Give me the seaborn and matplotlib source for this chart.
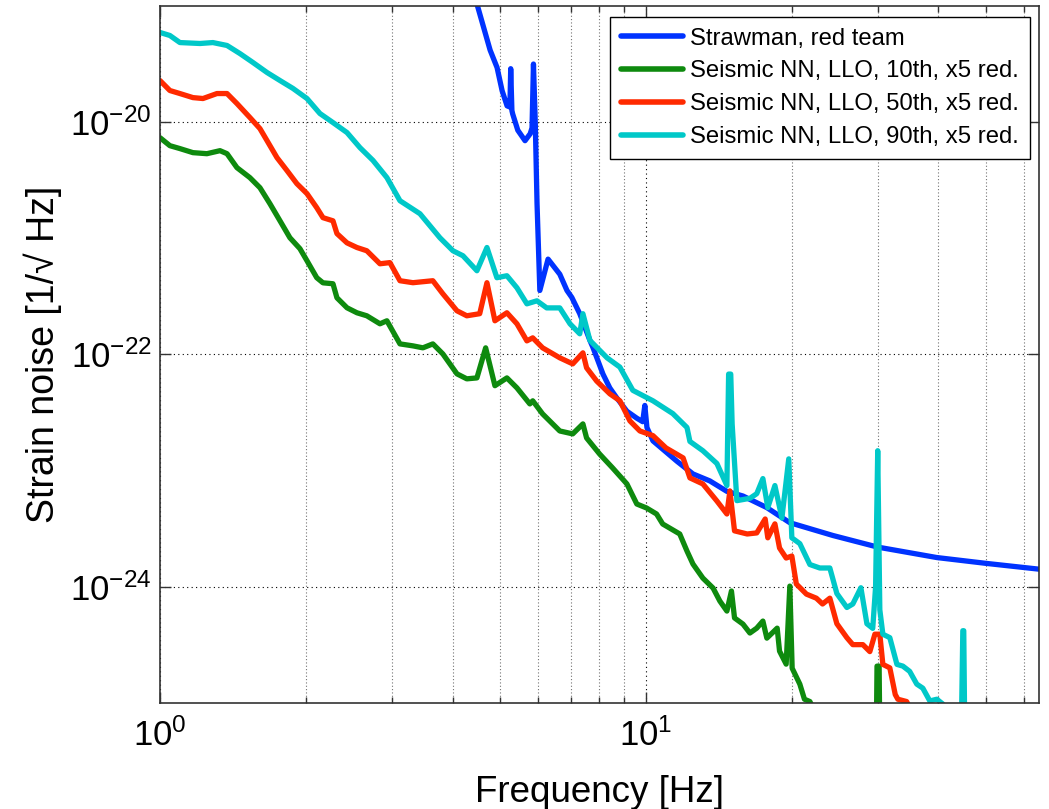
import matplotlib
matplotlib.use("Agg")
import matplotlib.pyplot as plt
import matplotlib.ticker as mticker
import numpy as np
import pandas as pd
import seaborn as sns

# frequency in Hz and log10 of strain noise
STRAWMAN_FREQ = [4.40, 4.51, 4.78, 4.94, 5.06, 5.18, 5.25, 5.27, 5.30, 5.32,
                 5.45, 5.64, 5.78, 5.83, 5.87, 5.92, 5.97, 6.05, 6.29, 6.65,
                 6.88, 7.04, 7.31, 7.67, 7.78, 8.16, 8.43, 8.71, 9.14, 9.58,
                 9.85, 9.95, 10.05, 10.34, 11.58, 12.50, 13.54, 14.68, 15.84, 17.74,
                 19.78, 24.26, 30.0, 39.7, 50.1, 64.4]
STRAWMAN_LOG = [-18.85, -19.01, -19.38, -19.53, -19.73, -19.86, -19.87, -19.54, -19.90, -19.93,
                -20.07, -20.16, -20.10, -20.05, -19.50, -20.00, -20.70, -21.45, -21.18, -21.31,
                -21.45, -21.51, -21.65, -21.88, -21.94, -22.17, -22.29, -22.375, -22.49, -22.55,
                -22.58, -22.44, -22.63, -22.745, -22.92, -23.03, -23.09, -23.18, -23.22, -23.32,
                -23.45, -23.56, -23.66, -23.75, -23.80, -23.85]

NN10_FREQ = [1.0, 1.048, 1.099, 1.169, 1.249, 1.329, 1.374, 1.44, 1.531, 1.606,
             1.684, 1.766, 1.851, 1.941, 2.007, 2.102, 2.165, 2.27, 2.313, 2.426,
             2.543, 2.665, 2.836, 2.931, 3.118, 3.316, 3.476, 3.644, 3.82, 4.085,
             4.28, 4.49, 4.68, 4.89, 5.176, 5.428, 5.77, 5.85, 6.13, 6.65,
             7.07, 7.42, 7.55, 8.03, 8.54, 9.14, 9.58, 10.03, 10.52, 10.83,
             11.74, 12.15, 12.5, 13.1, 13.75, 14.2, 14.68, 15.0, 15.22, 15.84,
             16.37, 16.91, 17.41, 17.74, 18.63, 18.84, 19.44, 19.78, 20.0, 20.74,
             21.2, 21.75, 23.0, 29.8, 29.9, 30.2, 30.3]
NN10_LOG = [-20.134, -20.203, -20.228, -20.263, -20.272, -20.246, -20.272, -20.392, -20.478, -20.565,
            -20.703, -20.85, -20.996, -21.09, -21.194, -21.34, -21.384, -21.392, -21.513, -21.599,
            -21.642, -21.668, -21.737, -21.711, -21.91, -21.927, -21.944, -21.91, -21.996, -22.168,
            -22.211, -22.203, -21.944, -22.27, -22.203, -22.289, -22.427, -22.40, -22.513, -22.66,
            -22.685, -22.599, -22.72, -22.858, -22.978, -23.116, -23.289, -23.323, -23.375, -23.461,
            -23.547, -23.694, -23.806, -23.927, -24.013, -24.125, -24.211, -24.038, -24.27, -24.323,
            -24.40, -24.358, -24.297, -24.444, -24.358, -24.556, -24.668, -23.996, -24.703, -24.84,
            -24.97, -24.99, -25.2, -25.3, -24.685, -24.685, -25.3]

NN50_FREQ = [1.0, 1.048, 1.099, 1.169, 1.226, 1.31, 1.374, 1.44, 1.531, 1.606,
             1.661, 1.741, 1.826, 1.913, 2.007, 2.102, 2.165, 2.27, 2.313, 2.426,
             2.543, 2.665, 2.836, 2.973, 3.118, 3.316, 3.644, 3.82, 4.085, 4.28,
             4.55, 4.709, 4.89, 5.176, 5.428, 5.69, 5.85, 6.13, 6.65, 7.07,
             7.42, 7.55, 7.92, 8.43, 8.84, 9.27, 9.72, 10.34, 11.0, 11.93,
             12.32, 13.1, 14.0, 14.68, 14.89, 15.22, 16.16, 16.91, 17.6, 17.82,
             18.43, 18.84, 19.44, 19.97, 20.4, 21.4, 22.43, 23.1, 23.91, 24.72,
             25.92, 26.66, 27.96, 28.9, 29.6, 30.3, 30.74, 31.77, 32.6, 33.0,
             34.4, 36.0]
NN50_LOG = [-19.642, -19.728, -19.754, -19.789, -19.797, -19.754, -19.754, -19.84, -19.96, -20.056,
            -20.16, -20.306, -20.418, -20.53, -20.616, -20.737, -20.823, -20.85, -20.96, -21.04,
            -21.08, -21.108, -21.22, -21.21, -21.366, -21.383, -21.366, -21.478, -21.625, -21.668,
            -21.65, -21.383, -21.711, -21.642, -21.737, -21.884, -21.858, -21.944, -22.03, -22.082,
            -21.987, -22.116, -22.23, -22.34, -22.40, -22.573, -22.66, -22.70, -22.806, -22.892,
            -23.064, -23.116, -23.263, -23.375, -23.176, -23.52, -23.547, -23.538, -23.418, -23.58,
            -23.46, -23.668, -23.754, -23.737, -23.978, -24.065, -24.1, -24.15, -24.1, -24.32,
            -24.44, -24.50, -24.50, -24.56, -24.41, -24.41, -24.67, -24.70, -24.93, -24.97,
            -24.99, -25.15]

NN90_FREQ = [1.0, 1.048, 1.099, 1.209, 1.285, 1.374, 1.461, 1.554, 1.661, 1.766,
             1.878, 2.007, 2.134, 2.27, 2.426, 2.58, 2.744, 2.931, 3.118, 3.428,
             3.768, 4.008, 4.203, 4.49, 4.709, 4.936, 5.176, 5.428, 5.69, 5.967,
             6.25, 6.65, 6.98, 7.31, 7.42, 7.67, 8.32, 8.84, 9.40, 10.34,
             11.36, 12.15, 12.32, 13.10, 14.0, 14.68, 14.80, 14.95, 15.05, 15.39,
             16.37, 16.91, 17.41, 17.82, 18.43, 19.05, 19.68, 19.97, 20.74, 21.75,
             22.80, 23.91, 24.72, 25.92, 26.66, 27.7, 28.5, 29.3, 29.7, 30.0,
             30.3, 30.74, 31.77, 32.86, 33.8, 34.9, 36.1, 37.15, 38.4, 39.7,
             40.8, 42.0, 44.6, 44.9, 45.1, 45.3, 46.0]
NN90_LOG = [-19.228, -19.254, -19.315, -19.323, -19.315, -19.34, -19.41, -19.487, -19.573, -19.642,
            -19.71, -19.797, -19.926, -20.004, -20.09, -20.22, -20.33, -20.478, -20.677, -20.789,
            -20.996, -21.108, -21.151, -21.28, -21.08, -21.34, -21.323, -21.427, -21.565, -21.539,
            -21.60, -21.60, -21.737, -21.823, -21.65, -21.88, -22.03, -22.11, -22.31, -22.40,
            -22.51, -22.63, -22.75, -22.83, -22.94, -23.13, -22.17, -22.17, -22.6, -23.26,
            -23.24, -23.20, -23.07, -23.32, -23.13, -23.41, -22.90, -23.58, -23.63, -23.81,
            -23.84, -23.84, -24.06, -24.18, -24.15, -24.01, -24.32, -24.36, -24.0, -22.83,
            -24.2, -24.41, -24.44, -24.67, -24.685, -24.73, -24.84, -24.875, -24.985, -24.97,
            -25.01, -25.1, -25.2, -24.38, -24.38, -25.2, -25.3]

SERIES = [
    "Strawman, red team",
    "Seismic NN, LLO, 10th, x5 red.",
    "Seismic NN, LLO, 50th, x5 red.",
    "Seismic NN, LLO, 90th, x5 red.",
]
COLORS = ["#0033ff", "#0e8a0e", "#ff2a00", "#00c8c8"]

X_TICKS = [1, 10]
Y_TICKS = [1e-24, 1e-22, 1e-20]


def build_frame() -> pd.DataFrame:
    parts = []
    for name, freq, logv in zip(
        SERIES,
        [STRAWMAN_FREQ, NN10_FREQ, NN50_FREQ, NN90_FREQ],
        [STRAWMAN_LOG, NN10_LOG, NN50_LOG, NN90_LOG],
    ):
        parts.append(pd.DataFrame({"freq": freq, "strain": 10.0 ** np.asarray(logv), "series": name}))
    return pd.concat(parts, ignore_index=True)


sns.set_theme(style="ticks")
plt.rcParams["font.family"] = ["Liberation Sans", "DejaVu Sans"]
plt.rcParams["mathtext.fontset"] = "custom"
plt.rcParams["mathtext.rm"] = "Liberation Sans"
plt.rcParams["mathtext.it"] = "Liberation Sans:italic"
plt.rcParams["mathtext.bf"] = "Liberation Sans:bold"
plt.rcParams["text.color"] = "black"
plt.rcParams["axes.labelcolor"] = "black"
plt.rcParams["xtick.labelcolor"] = "black"
plt.rcParams["ytick.labelcolor"] = "black"

fig = plt.figure(figsize=(10.49, 8.09), dpi=100)
ax = fig.add_axes([0.1525, 0.1314, 0.8379, 0.8612])

df = build_frame()
sns.lineplot(
    data=df, x="freq", y="strain", hue="series", hue_order=SERIES,
    palette=dict(zip(SERIES, COLORS)), estimator=None, sort=False,
    linewidth=3.8, ax=ax,
)

ax.set_xscale("log")
ax.set_yscale("log")
ax.set_xlim(1, 64.4)
ax.set_ylim(1e-25, 1e-19)

ax.xaxis.set_major_locator(mticker.FixedLocator(X_TICKS))
ax.xaxis.set_major_formatter(mticker.LogFormatterMathtext())
ax.xaxis.set_minor_locator(mticker.LogLocator(base=10, subs=np.arange(2, 10)))
ax.xaxis.set_minor_formatter(mticker.NullFormatter())
ax.yaxis.set_major_locator(mticker.FixedLocator(Y_TICKS))
ax.yaxis.set_major_formatter(mticker.LogFormatterMathtext())
ax.yaxis.set_minor_locator(mticker.NullLocator())

ax.grid(True, which="major", linestyle=(0, (1, 3)), color="black", linewidth=0.8)
ax.grid(True, which="minor", axis="x", linestyle=(0, (1, 2)), color="0.45", linewidth=0.8)

ax.tick_params(which="both", direction="in", top=True, right=True, width=1, color="#333333",
               labelcolor="black")
ax.tick_params(which="major", length=8, labelsize=25)
ax.tick_params(which="minor", length=4)
ax.tick_params(axis="x", which="major", pad=11)
ax.tick_params(axis="y", which="major", pad=6)
for spine in ax.spines.values():
    spine.set_color("#333333")
    spine.set_linewidth(1.2)

ax.set_xlabel("Frequency [Hz]", fontsize=26.5, labelpad=16, color="black")
ax.set_ylabel("Strain noise [1/\u221a Hz]", fontsize=27, labelpad=6, color="black")

handles, labels = ax.get_legend_handles_labels()
leg = ax.legend(
    handles, labels, loc="upper right", bbox_to_anchor=(0.9898, 0.9842),
    borderaxespad=0, fontsize=17.2, frameon=True, fancybox=False,
    edgecolor="black", framealpha=1, handlelength=2.6, handletextpad=0.3,
    borderpad=0.45, labelspacing=0.45,
)
leg.get_frame().set_linewidth(1.0)
for line in leg.get_lines():
    line.set_linewidth(4)
for text in leg.get_texts():
    text.set_color("black")

fig.savefig("out.png", dpi=100)
